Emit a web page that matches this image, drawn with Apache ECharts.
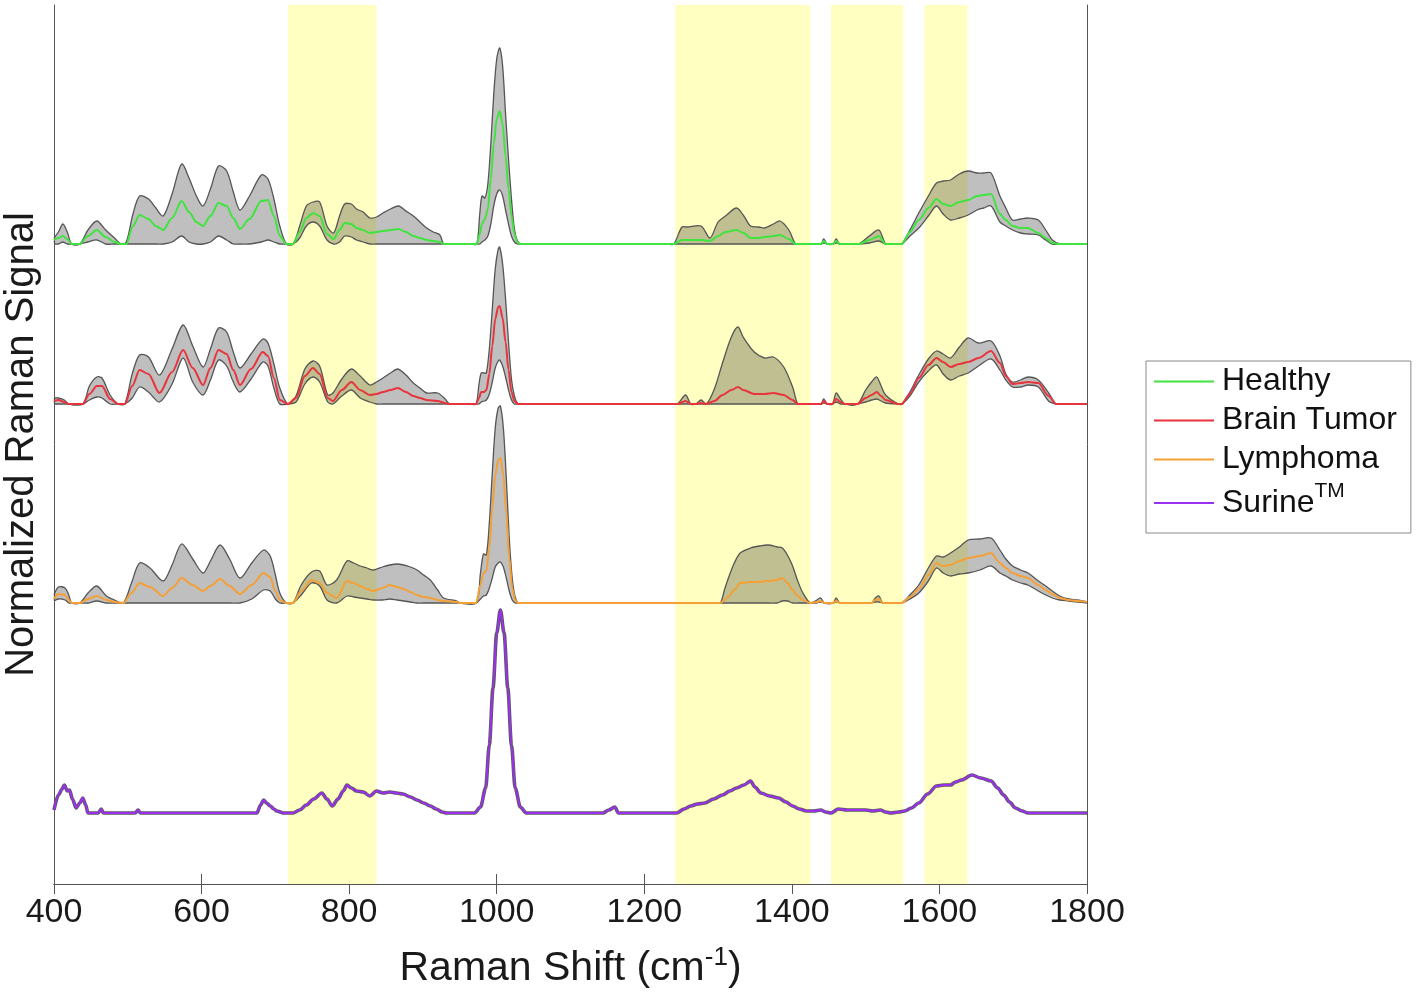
<!DOCTYPE html>
<html>
<head>
<meta charset="utf-8">
<script src="https://cdn.jsdelivr.net/npm/echarts@6/dist/echarts.min.js"></script>
<style>
html,body{margin:0;padding:0;background:#ffffff;}
#chart{width:1417px;height:1004px;}
</style>
</head>
<body>
<div id="chart"></div>
<script>
// ---------- DATA (heights above each trace's own baseline, arbitrary units) ----------
const healthyWn = [
400,406,412,418,424,435,446,458,470,482,
491,498,507,516,528,538,548,560,573,583,
593,602,612,623,634,643,652,665,681,690,
698,706,715,724,733,742,751,760,770,779,
787,794,803,810,819,828,837,846,856,867,
877,887,896,905,914,923,928,936,966,973,
977,980,984,988,992,996,1000,1004,1008,1012,
1016,1020,1024,1028,1032,1040,1232,1240,1251,1258,
1277,1289,1300,1310,1325,1335,1344,1355,1363,1375,
1384,1396,1405,1412,1434,1440,1443,1448,1456,1460,
1465,1484,1491,1505,1518,1527,1535,1543,1549,1560,
1572,1585,1596,1605,1615,1627,1639,1651,1660,1670,
1682,1690,1699,1710,1720,1734,1744,1753,1763,1772,
1800];
const healthyUpper = [
6,12,20,12,0,0,14,23,14,6,
0,2,30,48,45,36,28,50,80,66,
48,38,55,78,73,52,34,48,69,65,
45,18,0,0,18,38,42,42,18,11,
28,40,40,35,32,26,27,31,35,38,
33,28,22,16,12,9,0,0,0,0,
30,48,46,60,100,150,185,196,178,130,
85,45,15,3,0,0,0,0,17,17,
18,6,22,28,36,28,18,17,16,20,
23,14,0,0,0,0,5,0,0,5,
0,0,0,8,14,0,0,0,0,14,
31,48,61,63,64,70,73,71,71,71,
48,36,24,25,26,24,14,4,0,0,
0];
const healthyMean = [
4,6,8,5,0,0,8,14,7,2,
0,0,18,29,25,18,14,26,43,32,
22,18,28,41,38,26,15,25,43,44,
28,8,0,0,12,26,31,28,10,5,
14,21,20,16,14,11,12,13,14,15,
12,8,6,4,3,2,0,0,0,0,
10,20,25,35,65,100,125,133,120,88,
55,28,10,2,0,0,0,0,4,4,
4,3,8,12,14,11,6,6,7,8,
9,5,0,0,0,0,3,0,0,3,
0,0,0,4,8,0,0,0,0,12,
24,36,45,40,38,42,44,48,49,50,
30,24,18,16,16,11,6,1,0,0,
0];
const healthyLower = [
0,0,2,0,0,0,2,4,0,0,
0,0,0,0,0,0,0,2,8,2,
0,0,2,8,4,0,0,0,2,4,
2,0,0,0,6,18,22,18,4,0,
2,8,7,4,2,0,0,0,0,0,
0,0,0,0,0,0,0,0,0,0,
0,2,4,8,20,38,50,54,48,34,
20,8,2,0,0,0,0,0,0,0,
0,0,0,0,0,0,0,0,0,0,
0,0,0,0,0,0,1,0,0,1,
0,0,0,1,3,0,0,0,0,8,
16,28,38,30,24,26,29,34,36,38,
22,18,14,11,10,9,4,0,0,0,
0];

const tumorWn = [
400,406,414,420,439,448,458,465,476,487,
496,506,516,528,543,560,575,588,602,612,
623,634,643,652,667,683,690,698,706,717,
728,740,751,760,771,778,790,803,815,828,
837,846,856,866,877,887,896,905,920,930,
936,944,964,972,976,979,983,986,990,994,
998,1002,1004,1008,1012,1016,1020,1024,1029,1037,
1238,1245,1256,1263,1270,1277,1284,1295,1306,1318,
1327,1334,1349,1363,1375,1389,1401,1408,1415,1434,
1440,1443,1448,1455,1460,1466,1472,1489,1500,1508,
1515,1521,1527,1544,1549,1560,1572,1585,1596,1605,
1615,1627,1639,1653,1670,1682,1690,1699,1710,1720,
1734,1748,1758,1766,1800];
const tumorUpper = [
6,6,4,0,0,18,27,26,9,0,
0,30,49,47,29,55,79,58,37,55,
76,72,52,36,50,65,61,40,16,0,
8,35,43,38,9,11,25,35,28,19,
22,26,31,35,29,21,16,11,11,5,
0,0,0,0,20,31,31,31,55,95,
135,155,157,140,105,62,25,8,0,0,
0,0,9,0,0,4,0,15,41,67,
77,67,52,46,47,37,17,0,0,0,
0,5,0,0,11,5,0,0,14,22,
27,18,9,0,0,12,29,45,53,50,
46,57,66,61,63,48,30,22,24,27,
24,11,0,0,0];
const tumorMean = [
3,4,2,0,0,10,18,18,5,0,
0,18,34,30,11,32,54,36,19,36,
54,50,34,19,35,52,48,26,4,0,
6,28,36,30,6,3,14,22,14,9,
10,12,14,16,12,8,6,4,3,1,
0,0,0,0,6,12,12,14,30,58,
85,97,98,86,62,34,12,3,0,0,
0,0,3,0,0,1,0,3,9,14,
17,14,10,10,11,9,4,0,0,0,
0,3,0,0,5,2,0,0,6,9,
12,8,4,0,0,10,26,39,46,42,
37,40,42,46,53,41,28,20,21,22,
21,8,0,0,0];
const tumorLower = [
0,0,0,0,0,4,7,6,0,0,
0,6,17,12,2,20,46,22,9,24,
44,38,22,12,25,42,38,16,0,0,
2,20,27,22,2,0,8,14,6,2,
0,0,0,0,0,0,0,0,0,0,
0,0,0,0,0,2,3,4,10,22,
36,43,44,38,27,14,4,0,0,0,
0,0,0,0,0,0,0,0,0,0,
0,0,0,0,0,0,0,0,0,0,
0,1,0,0,2,0,0,0,2,4,
5,3,1,0,0,8,22,33,39,30,
24,28,31,38,45,34,24,17,17,19,
17,3,0,0,0];

const lymphWn = [
400,406,415,420,424,435,446,458,471,482,
494,505,516,530,548,560,573,588,602,612,
625,638,652,668,684,693,700,706,715,724,
735,749,760,770,783,797,806,815,824,833,
845,855,865,874,883,892,901,910,920,928,
946,950,972,978,982,986,990,994,998,1002,
1005,1009,1013,1017,1021,1025,1029,1037,1295,1303,
1309,1315,1322,1330,1344,1356,1368,1380,1387,1394,
1401,1408,1415,1425,1434,1439,1444,1456,1460,1465,
1472,1500,1508,1513,1518,1523,1530,1542,1549,1560,
1572,1585,1596,1605,1615,1627,1639,1655,1670,1682,
1690,1699,1710,1720,1734,1744,1753,1763,1775,1787,
1800];
const lymphUpper = [
8,16,15,8,0,0,10,17,7,3,
0,20,40,35,22,38,59,44,30,42,
58,44,25,40,53,47,28,10,0,0,
18,31,32,18,23,42,40,37,35,33,
36,38,39,38,36,33,28,23,13,5,
2,0,0,30,49,48,80,130,175,195,
197,175,125,65,25,6,0,0,0,0,
14,27,40,50,55,57,58,56,55,48,
37,22,10,0,3,5,0,0,5,0,
0,0,0,5,7,0,0,0,0,8,
18,35,47,46,50,56,63,64,65,53,
44,37,33,30,22,17,12,7,4,3,
1];
const lymphMean = [
4,9,8,3,0,0,4,7,3,1,
0,10,20,16,7,15,25,18,12,17,
24,17,9,18,30,26,12,3,0,0,
12,23,20,10,5,22,20,17,14,12,
15,18,16,14,11,8,6,5,3,2,
1,0,0,18,30,32,55,95,128,143,
145,128,90,45,15,3,0,0,0,0,
3,7,13,20,21,21,22,23,25,20,
13,7,3,0,1,2,0,0,2,0,
0,0,0,3,4,0,0,0,0,6,
14,28,40,37,38,42,45,47,50,40,
35,30,27,25,18,13,9,5,3,2,
1];
const lymphLower = [
2,4,3,0,0,0,0,2,0,0,
0,0,0,0,0,0,0,0,0,0,
0,0,0,4,13,12,4,0,0,0,
8,20,17,3,0,7,6,5,4,3,
3,4,3,2,1,0,0,0,0,0,
0,0,0,4,7,8,15,25,36,40,
41,36,25,12,3,0,0,0,0,0,
0,0,0,0,0,0,0,0,2,2,
0,0,0,0,0,1,0,0,1,0,
0,0,0,1,1,0,0,0,0,4,
10,22,35,30,27,29,30,33,37,30,
27,23,20,18,12,8,5,3,2,1,
0];

const surineWn = [
400,406,411,414,418,421,425,430,435,439,
443,446,460,464,467,510,514,517,675,680,
684,688,693,698,702,711,724,733,742,752,
763,770,777,785,792,797,803,810,819,828,
837,846,855,864,873,883,892,901,910,918,
926,932,970,978,985,990,995,1000,1005,1010,
1015,1020,1025,1032,1040,1144,1152,1160,1165,1244,
1254,1263,1272,1282,1294,1306,1316,1325,1335,1344,
1350,1358,1370,1382,1392,1401,1410,1420,1430,1439,
1446,1453,1463,1475,1487,1500,1510,1520,1527,1534,
1545,1553,1562,1572,1584,1596,1606,1615,1622,1630,
1644,1656,1670,1679,1687,1695,1703,1712,1720,1800];
const surineMean = [
3,18,24,28,22,23,14,5,10,15,
8,0,0,4,0,0,3,0,0,8,
13,10,7,4,2,0,0,3,8,14,
20,14,7,14,22,28,25,22,21,17,
22,20,21,20,19,16,13,10,7,4,
1,0,0,6,25,68,125,180,203,180,
125,68,25,6,0,0,3,6,0,0,
4,7,9,10,14,18,22,25,28,32,
26,20,17,15,11,7,4,2,2,3,
1,0,4,3,3,3,2,3,1,0,
1,2,5,10,19,27,28,28,31,33,
38,35,32,25,18,11,5,2,0,0];

const highlightBands = [[717, 837], [1242, 1425], [1453, 1551], [1580, 1638]];
const seriesNames = ['Healthy', 'Brain Tumor', 'Lymphoma', 'Surine'];

// ---------- LAYOUT / STYLE ----------
const traceOffsets = { healthy: 640, tumor: 480, lymph: 281, surine: 71 };
const colors = { healthy: '#3fe43f', tumor: '#e8343c', lymph: '#f4a036', surine: '#9b30f0' };
const FONT = "'Liberation Sans', Arial, Helvetica, sans-serif";
const edgeColor = '#555555';
const SMOOTH = 0.3;

function pts(wn, vals, off) { return wn.map((x, i) => [x, vals[i] + off]); }

// Band: polygon between upper and lower envelopes plus both edges, placed via the axes' scales (api.coord)
function bandSeries(key, wn, up, lo, off) {
  const upperPts = pts(wn, up, off);
  const lowerPts = pts(wn, lo, off);
  return {
    name: key + '-band', type: 'custom', silent: true, z: 3,
    data: [[wn[0], off]],
    encode: { x: 0, y: 1 },
    renderItem: function (params, api) {
      const u = upperPts.map(p => api.coord(p));
      const l = lowerPts.map(p => api.coord(p));
      return {
        type: 'group',
        children: [
          { type: 'polygon', shape: { points: u.concat(l.slice().reverse()), smooth: SMOOTH },
            style: { fill: 'rgba(0,0,0,0.25)', stroke: null } },
          { type: 'polyline', shape: { points: u, smooth: SMOOTH },
            style: { fill: null, stroke: edgeColor, lineWidth: 1.3 } },
          { type: 'polyline', shape: { points: l, smooth: SMOOTH },
            style: { fill: null, stroke: edgeColor, lineWidth: 1.3 } }
        ]
      };
    }
  };
}
function meanSeries(name, wn, mean, off, color, width, z) {
  return { name: name, type: 'line', data: pts(wn, mean, off), symbol: 'none',
    smooth: SMOOTH, smoothMonotone: 'x',
    lineStyle: { color: color, width: width || 2 }, itemStyle: { color: color }, z: z || 5, silent: true };
}

const series = [
  { name: 'bands', type: 'line', data: [], z: 1,
    markArea: { silent: true, itemStyle: { color: '#ffffc2' },
      data: highlightBands.map(b => [{ xAxis: b[0] }, { xAxis: b[1] }]) } },
  bandSeries('healthy', healthyWn, healthyUpper, healthyLower, traceOffsets.healthy),
  bandSeries('tumor', tumorWn, tumorUpper, tumorLower, traceOffsets.tumor),
  bandSeries('lymph', lymphWn, lymphUpper, lymphLower, traceOffsets.lymph),
  meanSeries('surine-band', surineWn, surineMean, traceOffsets.surine, '#5a5a5a', 3.6, 3),
  meanSeries('Healthy', healthyWn, healthyMean, traceOffsets.healthy, colors.healthy),
  meanSeries('Brain Tumor', tumorWn, tumorMean, traceOffsets.tumor, colors.tumor),
  meanSeries('Lymphoma', lymphWn, lymphMean, traceOffsets.lymph, colors.lymph),
  meanSeries('Surine', surineWn, surineMean, traceOffsets.surine, colors.surine)
];

const chart = echarts.init(document.getElementById('chart'), null, { renderer: 'canvas' });
chart.setOption({
  animation: false,
  backgroundColor: '#ffffff',
  textStyle: { fontFamily: FONT, color: '#1a1a1a' },
  grid: { left: 54, right: 330, top: 5, bottom: 120, containLabel: false, outerBoundsMode: 'none' },
  legend: {
    data: seriesNames.map(n => ({ name: n, icon: 'rect' })), orient: 'vertical', left: 1146, top: 361,
    padding: [3, 14, 8, 8], itemGap: 4, itemWidth: 60, itemHeight: 2,
    borderColor: '#8a8a8a', borderWidth: 1, backgroundColor: '#ffffff',
    formatter: function (n) { return n === 'Surine' ? '{m|Surine}{s|TM}' : n; },
    textStyle: { fontFamily: FONT, fontSize: 32, lineHeight: 35, color: '#111', padding: [0, 0, 0, 3],
      rich: { m: { fontFamily: FONT, fontSize: 32, lineHeight: 44, color: '#111' },
              s: { fontFamily: FONT, fontSize: 21, lineHeight: 20, color: '#111', verticalAlign: 'top' } } }
  },
  xAxis: [
    { type: 'value', min: 400, max: 1800, interval: 200, position: 'bottom',
      axisLine: { show: true, lineStyle: { color: '#555', width: 1 } },
      axisTick: { show: true, inside: true, length: 10, lineStyle: { color: '#555' } },
      axisLabel: { fontFamily: FONT, fontSize: 34, color: '#1a1a1a', margin: 12, formatter: v => String(v) },
      splitLine: { show: false },
      name: '{m|Raman Shift (cm}{s|-1}{m|)}', nameLocation: 'middle', nameGap: 61,
      nameTextStyle: { fontFamily: FONT, fontSize: 41, color: '#1a1a1a',
        rich: { m: { fontFamily: FONT, fontSize: 41, lineHeight: 48, color: '#1a1a1a' },
                s: { fontFamily: FONT, fontSize: 26, lineHeight: 22, color: '#1a1a1a', verticalAlign: 'top' } } } },
    { type: 'value', min: 400, max: 1800, interval: 200, position: 'top',
      axisLine: { show: true, lineStyle: { color: '#555', width: 1 } },
      axisTick: { show: true, inside: true, length: 10, lineStyle: { color: '#555' } },
      axisLabel: { show: false }, splitLine: { show: false } }
  ],
  yAxis: [
    { type: 'value', min: 0, max: 879, position: 'left',
      axisLine: { show: true, lineStyle: { color: '#555', width: 1 } },
      axisTick: { show: false }, axisLabel: { show: false }, splitLine: { show: false },
      name: 'Normalized Raman Signal', nameLocation: 'middle', nameGap: 12,
      nameTextStyle: { fontFamily: FONT, fontSize: 40, color: '#1a1a1a' } },
    { type: 'value', min: 0, max: 879, position: 'right',
      axisLine: { show: true, lineStyle: { color: '#555', width: 1 } },
      axisTick: { show: false }, axisLabel: { show: false }, splitLine: { show: false } }
  ],
  series: series
});
</script>
</body>
</html>
